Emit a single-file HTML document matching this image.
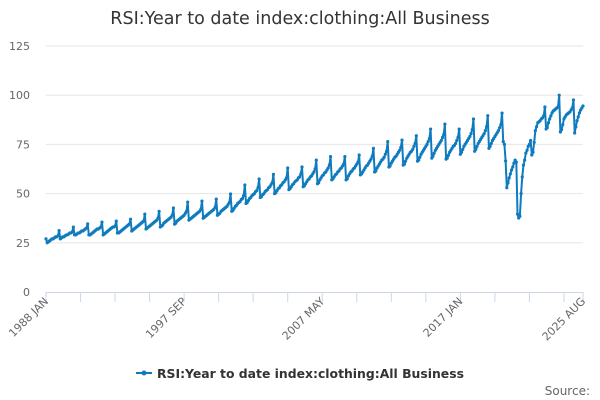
<!DOCTYPE html>
<html><head><meta charset="utf-8"><style>
body{margin:0;background:#fff;}
svg{display:block;font-family:"DejaVu Sans","Liberation Sans",sans-serif;}
</style></head><body>
<svg id="chart" width="600" height="400">
<text x="300" y="24" text-anchor="middle" font-size="17.5" fill="#333">RSI:Year to date index:clothing:All Business</text>
<g id="grid"></g><g id="xaxis"></g><g id="series"></g>
<g>
<line x1="136" y1="373" x2="152" y2="373" stroke="#0f7bbf" stroke-width="2"/>
<circle cx="144" cy="373" r="2.5" fill="#0f7bbf"/>
<text x="157" y="378" font-size="12.4" font-weight="bold" fill="#333">RSI:Year to date index:clothing:All Business</text>
</g>
<text x="590" y="395" text-anchor="end" font-size="12" fill="#666">Source:</text>
</svg>
<script>
const yTicks=[0,25,50,75,100,125];
const xLabels=["1988 JAN","1997 SEP","2007 MAY","2017 JAN","2025 AUG"];
const startYear=1988;
const values=[
27,25,25.5,26,26.5,27,27,27.5,28,28,28.5,31.2,
27,27.5,28,28,28.5,29,29,29.5,30,30,30.5,33,
29,29,29.5,30,30,30.5,31,31,31.5,32,32.5,34.6,
29,29,29.5,30,30.5,31,31.5,32,32,32.5,33,35.5,
29,29.5,30,30.5,31,31.5,32,32.5,33,33,33.5,36,
30,30,30.5,31,31.5,32,32.5,33,33.5,34,34.5,37,
31,31.5,32,32.5,33,33.5,34,34.5,35,35.5,36,39.6,
32,32.5,33,33.5,34,34.5,35,35.5,36,36.5,37.5,41,
33,33.5,34,35,35.5,36,36.5,37,37.5,38,39,42.7,
34.5,35,36,36.5,37,37.5,38,38.5,39,40,41,45.7,
36.5,37,37.5,38,38.5,39,39.5,40,40.5,41,42,46.2,
37.5,38,38.5,39,39.5,40,40.5,41,41.5,42,43,47.2,
39,39.5,40,41,41.5,42,42.5,43,43.5,44.5,45.5,49.8,
41,41.5,42.5,43.5,44,45,45.5,46,47,47.5,49,54.4,
45,45.5,46.5,47.5,48,49,49.5,50,51,51.5,53,57.4,
48,48.5,49.5,50,51,51.5,52,53,53.5,54.5,55.5,59.8,
50,50.5,51.5,52.5,53,54,54.5,55.5,56,57,58,63,
52,52.5,53.5,54.5,55,56,56.5,57,58,58.5,60,63.5,
53.5,54,55,56,57,57.5,58.5,59,60,61,62.5,67,
55,55.5,57,58,59,59.5,60.5,61,62,63,64.5,68.8,
57,57.5,58.5,59.5,60,61,61.5,62.5,63,64,65,68.8,
57,57.5,59,60,61,61.5,62.5,63,64,65,66,69.6,
59.5,60,61,62,63,64,64.5,65.5,66.5,67.5,69,73,
61,61.5,63,64,65,66,67,67.5,68.5,70,71.5,76.4,
63.5,64,65.5,66.5,67.5,68.5,69,70,71,72,73.5,77.2,
64.5,65,66.5,68,69,70,71,71.5,72.5,74,75.5,79.4,
66.5,67,68.5,70,71,72,73,74,75,76.5,78,82.8,
68,69,70.5,72,73,74,75,76,77,78.5,80,85.3,
67.5,68,69.5,71,72,73,74,74.5,75.5,77,78.5,82.8,
70,71,72.5,74,75,76,77,78,79,80.5,82.5,87.9,
71.5,72.5,74,75.5,76.5,77.5,78.5,79.5,80.5,82,84,89.6,
73,74,75.5,77,78,79,80,81,82,83.5,85,90.9,
76.4,75,66.6,53,55.5,58,60,62,63.5,65.5,67,66,
39.6,37.6,38.5,50,58.5,64.5,67,70.6,72,74,75,77,
69.6,71,76,82,84,86,86.5,87,88,88.5,89.5,94,
82.8,83.5,86,88,89.5,91,92,92.5,93,93.5,94,100,
81.3,82.5,85,88,89,90,90.5,91,91.5,92.5,93.5,97.6,
80.8,84,87,89,91,92.5,93.5,94.5
];
const NS="http://www.w3.org/2000/svg";
const X0=46,X1=583,Y0=292,Y1=46,YMAX=125;
const n=values.length;
function xs(i){return X0+(X1-X0)*i/(n-1);}
function ys(v){return Y0-(Y0-Y1)*v/YMAX;}
function mk(tag,attrs,parent){const e=document.createElementNS(NS,tag);for(const k in attrs)e.setAttribute(k,attrs[k]);parent.appendChild(e);return e;}
const grid=document.getElementById('grid');
yTicks.forEach(t=>{
  if(t>0){const l=mk('line',{x1:X0,x2:X1,y1:ys(t),y2:ys(t),stroke:'#e6e6e6','stroke-width':1},grid);
  
  }
  const tx=mk('text',{x:30,y:ys(t)+4,'text-anchor':'end','font-size':11,fill:'#666'},grid);
  tx.textContent=t;
  
  
});
const xa=document.getElementById('xaxis');
const axl=mk('line',{x1:X0,x2:X1,y1:Y0+0.5,y2:Y0+0.5,stroke:'#ccd6eb','stroke-width':1},xa);


const tickIdx=[];for(let i=0;i<n;i+=29)tickIdx.push(i);tickIdx.push(n-1);
tickIdx.forEach(i=>{const t=mk('line',{x1:xs(i),x2:xs(i),y1:Y0,y2:Y0+10,stroke:'#ccd6eb'},xa);
  
  });
const labIdx=[0,116,232,348,n-1];
labIdx.forEach((i,k)=>{const x=xs(i)+3,y=Y0+10;
  const t=mk('text',{x:x,y:y,'text-anchor':'end','font-size':11,fill:'#666',transform:`rotate(-45 ${x} ${y})`},xa);
  t.textContent=xLabels[k];
  
  });
const s=document.getElementById('series');
const pts=values.map((v,i)=>xs(i).toFixed(2)+','+ys(v).toFixed(2)).join(' ');
const pl=mk('polyline',{points:pts,fill:'none',stroke:'#0f7bbf','stroke-width':2,'stroke-linejoin':'round'},s);


values.forEach((v,i)=>{const c=mk('circle',{cx:xs(i),cy:ys(v),r:1.6,fill:'#0f7bbf'},s);
  
  });
</script>
</body></html>
